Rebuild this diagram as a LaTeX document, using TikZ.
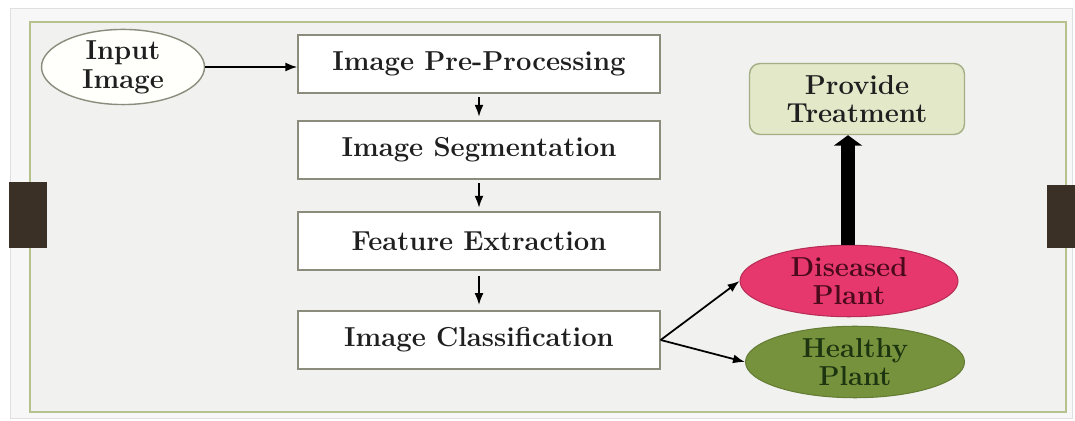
\documentclass[tikz,border=0pt]{standalone}
\usepackage{xcolor}
\usepackage{tikz}
\usetikzlibrary{shapes,arrows.meta,positioning}
\definecolor{framegreen}{HTML}{B6C28E}
\definecolor{panelgray}{HTML}{F1F1F0}
\definecolor{tabbrown}{HTML}{3B3026}
\definecolor{boxline}{HTML}{8C8C7C}
\definecolor{treatfill}{HTML}{E2E8C8}
\definecolor{treatline}{HTML}{A3AE84}
\definecolor{sickfill}{HTML}{E6386C}
\definecolor{sicktext}{HTML}{4A0A1C}
\definecolor{wellfill}{HTML}{76923C}
\definecolor{welltext}{HTML}{1C3410}

\begin{document}
\begin{tikzpicture}[
  x=0.02cm,
  y=-0.02cm,
  every node/.style={font=\bfseries\fontsize{15.6}{16.4}\selectfont, align=center, text=black!88},
  stage/.style={rectangle, draw=boxline, fill=white, line width=0.8pt, minimum width=7.24cm, minimum height=1.16cm, inner sep=0pt},
  source/.style={ellipse, draw=boxline, fill=white!99!yellow, line width=0.8pt, minimum width=3.26cm, minimum height=1.4cm, inner sep=0pt},
  remedy/.style={rectangle, rounded corners=6pt, draw=treatline, fill=treatfill, line width=0.8pt, minimum width=4.3cm, minimum height=1.42cm, inner sep=0pt},
  verdict/.style={ellipse, minimum width=4.36cm, minimum height=1.43cm, inner sep=0pt, line width=0.6pt},
  link/.style={-{Latex[length=2.4mm, width=1.8mm]}, line width=1pt},
  bigflow/.style={-{Triangle[width=16pt, length=6pt]}, line width=7.5pt}
]
\useasboundingbox (0,0) rectangle (1075,421);
% page, frame and side tabs
\fill[white] (0,0) rectangle (1075,421);
\draw[black!12, fill=black!3] (10,8) rectangle (1072,418);
\draw[framegreen, fill=panelgray, line width=1pt] (30,22) rectangle (1066,412);
\fill[tabbrown] (9,182) rectangle (47,248);
\fill[tabbrown] (1047,185) rectangle (1075,248);

% pipeline
\node[source] (input) at (123,67) {Input\\Image};
\node[stage] (pre) at (479,64) {Image Pre-Processing};
\node[stage] (seg) at (479,150) {Image Segmentation};
\node[stage] (feat) at (479,241) {Feature Extraction};
\node[stage] (cls) at (479,340) {Image Classification};

% outcomes
\node[remedy] (treat) at (857,99) {Provide\\Treatment};
\node[verdict, fill=sickfill, draw=sickfill!80!black, text=sicktext] (sick) at (849,281) {Diseased\\Plant};
\node[verdict, fill=wellfill, draw=wellfill!85!black, text=welltext, minimum width=4.38cm] (well) at (855,362) {Healthy\\Plant};

\draw[link] (input) -- (pre.west |- input);
\draw[link, shorten <=2pt, shorten >=2pt] (pre) -- (seg);
\draw[link, shorten <=2pt, shorten >=2pt] (seg) -- (feat);
\draw[link, shorten <=3pt, shorten >=3pt] (feat) -- (cls);
\draw[link] (cls.east) -- (sick.west);
\draw[link] (cls.east) -- (well.west);
\draw[bigflow] (sick.north -| 848,0) -- (treat.south -| 848,0);
\end{tikzpicture}
\end{document}
